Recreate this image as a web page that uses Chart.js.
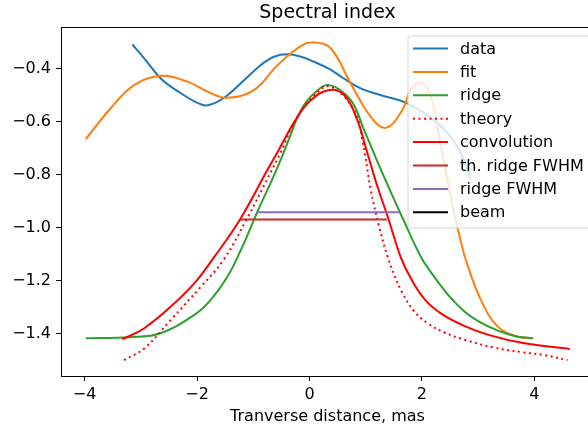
<!DOCTYPE html>
<html>
<head>
<meta charset="utf-8">
<script src="https://cdn.jsdelivr.net/npm/chart.js@4.4.0/dist/chart.umd.min.js"></script>
<style>
  html, body { margin: 0; padding: 0; overflow: hidden; background: #fff; }
  #wrap { width: 600px; height: 429px; }
</style>
</head>
<body>
<div id="wrap"><canvas id="myChart" width="600" height="429"></canvas></div>
<script>
// values
const dataX = [-3.15, -2.94, -2.65, -2.35, -1.90, -1.70, -1.46, -1.16, -0.87, -0.63, -0.39, -0.15, 0.08, 0.35, 0.61, 0.91, 1.27, 1.74, 2.28, 2.63, 2.87];
const dataY = [-0.310, -0.362, -0.437, -0.485, -0.538, -0.532, -0.501, -0.444, -0.388, -0.356, -0.347, -0.356, -0.375, -0.402, -0.438, -0.475, -0.501, -0.532, -0.607, -0.695, -0.814];

const fitX = [-3.98, -3.54, -3.12, -2.65, -2.17, -1.81, -1.46, -0.99, -0.57, -0.15, 0.08, 0.38, 0.73, 1.09, 1.36, 1.65, 1.80, 1.98, 2.16, 2.34, 2.57, 2.69, 2.78, 3.05, 3.35, 3.70, 3.98];
const fitY = [-0.666, -0.551, -0.463, -0.428, -0.450, -0.488, -0.511, -0.482, -0.388, -0.315, -0.302, -0.325, -0.456, -0.582, -0.624, -0.557, -0.482, -0.454, -0.507, -0.695, -0.946, -1.050, -1.122, -1.273, -1.373, -1.411, -1.417];

const ridgeX = [-3.98, -3.20, -2.65, -2.05, -1.76, -1.46, -1.22, -0.93, -0.59, -0.39, -0.15, 0.08, 0.35, 0.73, 0.97, 1.21, 1.45, 1.68, 1.98, 2.20, 2.50, 2.75, 3.00, 3.35, 3.65, 3.97];
const ridgeY = [-1.417, -1.413, -1.398, -1.329, -1.273, -1.185, -1.084, -0.942, -0.783, -0.680, -0.557, -0.495, -0.463, -0.519, -0.632, -0.752, -0.868, -0.975, -1.110, -1.180, -1.262, -1.315, -1.352, -1.388, -1.408, -1.417];

const theoryX = [-3.30, -2.94, -2.47, -1.93, -1.53, -1.12, -0.67, -0.52, -0.25, 0.05, 0.36, 0.79, 0.94, 1.09, 1.24, 1.39, 1.51, 1.65, 1.86, 2.10, 2.40, 2.80, 3.28, 3.80, 4.17, 4.59];
const theoryY = [-1.499, -1.455, -1.348, -1.222, -1.122, -0.969, -0.783, -0.720, -0.595, -0.510, -0.468, -0.557, -0.670, -0.858, -0.997, -1.110, -1.180, -1.245, -1.315, -1.360, -1.395, -1.425, -1.452, -1.470, -1.480, -1.499];

const convX = [-3.33, -2.94, -2.47, -2.05, -1.70, -1.235, -0.75, -0.58, -0.25, 0.00, 0.33, 0.62, 0.85, 1.03, 1.21, 1.39, 1.62, 1.80, 2.05, 2.35, 2.75, 3.20, 3.80, 4.63];
const convY = [-1.421, -1.379, -1.298, -1.210, -1.112, -0.969, -0.783, -0.720, -0.595, -0.525, -0.482, -0.501, -0.595, -0.720, -0.846, -0.958, -1.110, -1.190, -1.270, -1.325, -1.370, -1.405, -1.435, -1.457];

const thFwhmX = [-1.235, 1.375];
const thFwhmY = [-0.969, -0.969];
const ridgeFwhmX = [-0.93, 1.61];
const ridgeFwhmY = [-0.942, -0.942];
const beamX = [];
const beamY = [];

const xTicksStep = 2;
const yTicksStep = 0.2;

function pts(xs, ys) {
    return xs.map((x, i) => ({ x: x, y: ys[i] }));
}

const FONT = '"DejaVu Sans", sans-serif';

function line(label, xs, ys, color, dash) {
    return {
        label: label,
        data: pts(xs, ys),
        borderColor: color,
        backgroundColor: color,
        borderWidth: 2,
        borderDash: dash || [],
        pointRadius: 0,
        tension: 0.4,
        fill: false
    };
}

const datasets = [
    line('data', dataX, dataY, '#1f77b4'),
    line('fit', fitX, fitY, '#ff7f0e'),
    line('ridge', ridgeX, ridgeY, '#2ca02c'),
    line('theory', theoryX, theoryY, '#ff0000', [2, 3.5]),
    line('convolution', convX, convY, '#ff0000'),
    line('th. ridge FWHM', thFwhmX, thFwhmY, '#d62728'),
    line('ridge FWHM', ridgeFwhmX, ridgeFwhmY, '#9467bd'),
    line('beam', beamX, beamY, '#000000')
];
// matplotlib draws later lines on top
datasets.forEach((d, i) => { d.order = -i; });

const minus = s => s.replace('-', '\u2212');

// frame, title, axis label and legend drawn the matplotlib way
const mplLook = {
    id: 'mplLook',
    beforeDraw(chart) {
        const ctx = chart.ctx;
        ctx.save();
        ctx.fillStyle = '#fff';
        ctx.fillRect(0, 0, chart.width, chart.height);
        ctx.restore();
    },
    afterDraw(chart) {
        const ctx = chart.ctx;
        const a = chart.chartArea;
        ctx.save();
        ctx.strokeStyle = '#000';
        ctx.lineWidth = 1;
        ctx.strokeRect(a.left + 0.5, a.top + 0.5, a.right - a.left, a.bottom - a.top);

        const cx = (a.left + a.right) / 2;
        ctx.fillStyle = '#000';
        ctx.textAlign = 'center';
        ctx.textBaseline = 'alphabetic';
        ctx.font = '19px ' + FONT;
        ctx.fillText('Spectral index', cx, 18);
        ctx.font = '16px ' + FONT;
        ctx.fillText('Tranverse distance, mas', cx, 421);

        // legend
        const lx = 408, ly = 36, lw = 200, lh = 192, r = 3;
        ctx.beginPath();
        ctx.moveTo(lx + r, ly);
        ctx.lineTo(lx + lw - r, ly);
        ctx.arcTo(lx + lw, ly, lx + lw, ly + r, r);
        ctx.lineTo(lx + lw, ly + lh - r);
        ctx.arcTo(lx + lw, ly + lh, lx + lw - r, ly + lh, r);
        ctx.lineTo(lx + r, ly + lh);
        ctx.arcTo(lx, ly + lh, lx, ly + lh - r, r);
        ctx.lineTo(lx, ly + r);
        ctx.arcTo(lx, ly, lx + r, ly, r);
        ctx.closePath();
        ctx.fillStyle = 'rgba(255,255,255,0.8)';
        ctx.fill();
        ctx.strokeStyle = 'rgba(204,204,204,0.8)';
        ctx.stroke();

        ctx.textAlign = 'left';
        ctx.textBaseline = 'middle';
        ctx.font = '16px ' + FONT;
        chart.data.datasets.forEach((d, i) => {
            const y = 48.5 + i * 23.4;
            ctx.beginPath();
            ctx.setLineDash(d.borderDash);
            ctx.strokeStyle = d.borderColor;
            ctx.lineWidth = 2;
            ctx.moveTo(413, y);
            ctx.lineTo(448, y);
            ctx.stroke();
            ctx.setLineDash([]);
            ctx.fillStyle = '#000';
            ctx.fillText(d.label, 460, y + 1);
        });
        ctx.restore();
    }
};

new Chart('myChart', {
    type: 'line',
    data: { datasets: datasets },
    options: {
        responsive: false,
        animation: false,
        devicePixelRatio: 1,
        layout: { padding: { top: 27, right: 6, left: 0, bottom: 0 } },
        plugins: { legend: { display: false }, title: { display: false }, tooltip: { enabled: false } },
        scales: {
            x: {
                type: 'linear',
                min: -4.42,
                max: 5.06,
                afterFit: s => { s.height = 53; },
                border: { display: false },
                grid: { drawOnChartArea: false, drawTicks: true, tickLength: 5, tickColor: '#000', tickWidth: 1 },
                ticks: {
                    stepSize: xTicksStep,
                    includeBounds: false,
                    padding: 4,
                    color: '#000',
                    font: { family: FONT, size: 16 },
                    maxRotation: 0,
                    callback: v => minus(v.toFixed(0))
                }
            },
            y: {
                type: 'linear',
                min: -1.559,
                max: -0.244,
                afterFit: s => { s.width = 61; },
                border: { display: false },
                grid: { drawOnChartArea: false, drawTicks: true, tickLength: 5, tickColor: '#000', tickWidth: 1 },
                ticks: {
                    stepSize: yTicksStep,
                    includeBounds: false,
                    padding: 5,
                    color: '#000',
                    font: { family: FONT, size: 16 },
                    callback: v => minus(v.toFixed(1))
                }
            }
        }
    },
    plugins: [mplLook]
});
</script>
</body>
</html>
